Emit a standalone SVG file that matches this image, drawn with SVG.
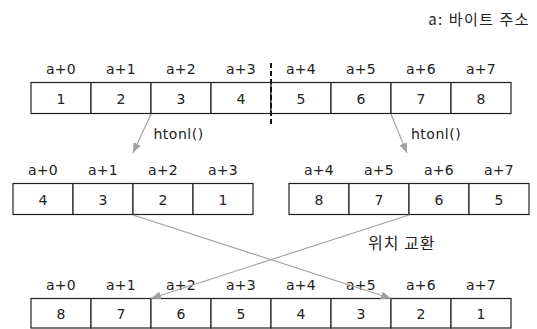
<svg xmlns="http://www.w3.org/2000/svg" width="537" height="329" viewBox="0 0 537 329">
<style>
.cell{fill:#fff;stroke:#222;stroke-width:1.2}
.lbl{font-family:"DejaVu Sans",sans-serif;font-size:14px;fill:#222;text-anchor:middle;letter-spacing:0.3px}
.num{font-family:"DejaVu Sans",sans-serif;font-size:14px;fill:#222;text-anchor:middle}
.fn{font-family:"DejaVu Sans",sans-serif;font-size:14px;fill:#222;letter-spacing:0.5px}
.kr{font-family:"Noto Sans CJK KR","DejaVu Sans",sans-serif;fill:#222}
.conn{stroke:#a0a0a0;stroke-width:1.1;fill:none;marker-end:url(#ah)}
</style>
<defs>
<marker id="ah" markerUnits="userSpaceOnUse" markerWidth="10" markerHeight="8" refX="10" refY="4" orient="auto">
<path d="M0,0 L10,4 L0,8 z" fill="#a0a0a0"/>
</marker>
</defs>
<rect width="537" height="329" fill="#fff"/>
<text id="legend" class="kr" x="530" y="25" font-size="15" text-anchor="end" letter-spacing="1.5">a: 바이트 주소</text>

<g id="row-top">
<rect class="cell" x="31" y="82.5" width="60" height="31"/>
<rect class="cell" x="91" y="82.5" width="60" height="31"/>
<rect class="cell" x="151" y="82.5" width="60" height="31"/>
<rect class="cell" x="211" y="82.5" width="60" height="31"/>
<rect class="cell" x="271" y="82.5" width="60" height="31"/>
<rect class="cell" x="331" y="82.5" width="60" height="31"/>
<rect class="cell" x="391" y="82.5" width="60" height="31"/>
<rect class="cell" x="451" y="82.5" width="60" height="31"/>
<text class="lbl" x="61" y="73.5">a+0</text>
<text class="lbl" x="121" y="73.5">a+1</text>
<text class="lbl" x="181" y="73.5">a+2</text>
<text class="lbl" x="241" y="73.5">a+3</text>
<text class="lbl" x="301" y="73.5">a+4</text>
<text class="lbl" x="361" y="73.5">a+5</text>
<text class="lbl" x="421" y="73.5">a+6</text>
<text class="lbl" x="481" y="73.5">a+7</text>
<text class="num" x="61" y="103.5">1</text>
<text class="num" x="121" y="103.5">2</text>
<text class="num" x="181" y="103.5">3</text>
<text class="num" x="241" y="103.5">4</text>
<text class="num" x="301" y="103.5">5</text>
<text class="num" x="361" y="103.5">6</text>
<text class="num" x="421" y="103.5">7</text>
<text class="num" x="481" y="103.5">8</text>
</g>
<line id="divider" x1="271" y1="63" x2="271" y2="126" stroke="#111" stroke-width="2" stroke-dasharray="5 3"/>

<g id="row-left">
<rect class="cell" x="13" y="183.5" width="60" height="31"/>
<rect class="cell" x="73" y="183.5" width="60" height="31"/>
<rect class="cell" x="133" y="183.5" width="60" height="31"/>
<rect class="cell" x="193" y="183.5" width="60" height="31"/>
<text class="lbl" x="43" y="174.5">a+0</text>
<text class="lbl" x="103" y="174.5">a+1</text>
<text class="lbl" x="163" y="174.5">a+2</text>
<text class="lbl" x="223" y="174.5">a+3</text>
<text class="num" x="43" y="204.5">4</text>
<text class="num" x="103" y="204.5">3</text>
<text class="num" x="163" y="204.5">2</text>
<text class="num" x="223" y="204.5">1</text>
</g>

<g id="row-right">
<rect class="cell" x="289" y="183.5" width="60" height="31"/>
<rect class="cell" x="349" y="183.5" width="60" height="31"/>
<rect class="cell" x="409" y="183.5" width="60" height="31"/>
<rect class="cell" x="469" y="183.5" width="60" height="31"/>
<text class="lbl" x="319" y="174.5">a+4</text>
<text class="lbl" x="379" y="174.5">a+5</text>
<text class="lbl" x="439" y="174.5">a+6</text>
<text class="lbl" x="499" y="174.5">a+7</text>
<text class="num" x="319" y="204.5">8</text>
<text class="num" x="379" y="204.5">7</text>
<text class="num" x="439" y="204.5">6</text>
<text class="num" x="499" y="204.5">5</text>
</g>

<g id="row-bottom">
<rect class="cell" x="31" y="298.5" width="60" height="29.5"/>
<rect class="cell" x="91" y="298.5" width="60" height="29.5"/>
<rect class="cell" x="151" y="298.5" width="60" height="29.5"/>
<rect class="cell" x="211" y="298.5" width="60" height="29.5"/>
<rect class="cell" x="271" y="298.5" width="60" height="29.5"/>
<rect class="cell" x="331" y="298.5" width="60" height="29.5"/>
<rect class="cell" x="391" y="298.5" width="60" height="29.5"/>
<rect class="cell" x="451" y="298.5" width="60" height="29.5"/>
<text class="lbl" x="61" y="289.5">a+0</text>
<text class="lbl" x="121" y="289.5">a+1</text>
<text class="lbl" x="181" y="289.5">a+2</text>
<text class="lbl" x="241" y="289.5">a+3</text>
<text class="lbl" x="301" y="289.5">a+4</text>
<text class="lbl" x="361" y="289.5">a+5</text>
<text class="lbl" x="421" y="289.5">a+6</text>
<text class="lbl" x="481" y="289.5">a+7</text>
<text class="num" x="61" y="319">8</text>
<text class="num" x="121" y="319">7</text>
<text class="num" x="181" y="319">6</text>
<text class="num" x="241" y="319">5</text>
<text class="num" x="301" y="319">4</text>
<text class="num" x="361" y="319">3</text>
<text class="num" x="421" y="319">2</text>
<text class="num" x="481" y="319">1</text>
</g>

<g id="connectors">
<line class="conn" x1="151" y1="114" x2="133" y2="153"/>
<line class="conn" x1="391" y1="114" x2="407" y2="153"/>
<line class="conn" x1="133" y1="215" x2="391" y2="298.5"/>
<line class="conn" x1="409" y1="215" x2="151" y2="298.5"/>
<text class="fn" x="153.5" y="139">htonl()</text>
<text class="fn" x="411" y="139">htonl()</text>
<text class="kr" x="368" y="249" font-size="16" letter-spacing="1">위치 교환</text>
</g>
</svg>
